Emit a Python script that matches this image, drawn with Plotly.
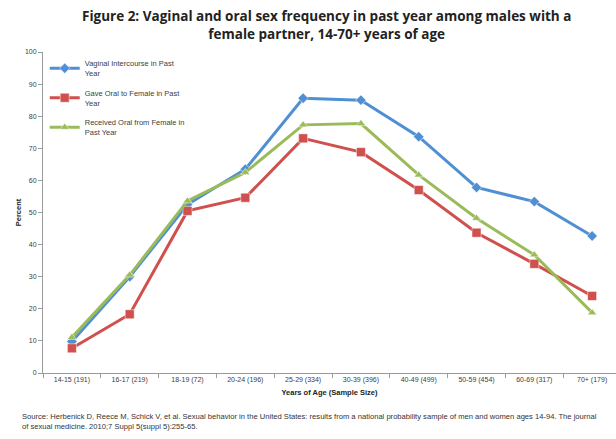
import plotly.graph_objects as go

categories = ["14-15 (191)", "16-17 (219)", "18-19 (72)", "20-24 (196)", "25-29 (334)",
              "30-39 (396)", "40-49 (499)", "50-59 (454)", "60-69 (317)", "70+ (179)"]
vaginal = [9.8, 30.0, 52.5, 63.5, 85.6, 85.0, 73.6, 57.8, 53.4, 42.7]
gave_oral = [7.7, 18.3, 50.5, 54.6, 73.1, 68.8, 57.0, 43.7, 34.0, 24.0]
received_oral = [11.1, 30.5, 53.6, 62.5, 77.3, 77.7, 61.7, 48.2, 36.8, 18.8]

series_names = ["Vaginal Intercourse in Past<br>Year",
                "Gave Oral to Female in Past<br>Year",
                "Received Oral from Female in<br>Past Year"]
colors = ["#4F8FD3", "#D0504D", "#9BBB59"]
symbols = ["diamond", "square", "triangle-up"]

FONT = "Liberation Sans, Arial, sans-serif"

fig = go.Figure()
for i, (name, vals, c, s) in enumerate(zip(series_names, [vaginal, gave_oral, received_oral], colors, symbols)):
    fig.add_trace(go.Scatter(
        x=categories, y=vals, name=name, mode="lines+markers", legendgroup=f"g{i}",
        line=dict(color=c, width=3),
        marker=dict(symbol=s, size=8 if s != "square" else 9, color=c,
                    line=dict(color="white", width=0.5)),
    ))

fig.update_layout(
    width=616, height=439,
    margin=dict(l=43, r=0, t=52, b=66),
    paper_bgcolor="white", plot_bgcolor="white",
    font=dict(family=FONT, size=7, color="#404040"),
    showlegend=True,
    legend=dict(x=0.003, y=1.0, xanchor="left", yanchor="top",
                bgcolor="rgba(0,0,0,0)", font=dict(size=7.5, color="#404040"),
                tracegroupgap=7, itemwidth=30),
    xaxis=dict(
        type="category", range=[-0.5, 9.413],
        showline=True, linecolor="#9a9a9a", linewidth=1,
        ticks="outside", tickson="boundaries", ticklen=4, tickcolor="#9a9a9a",
        showgrid=False, tickfont=dict(size=7, color="#404040"),
        title=dict(text="<b>Years of Age (Sample Size)</b>", font=dict(size=7.5, color="#222222"), standoff=6),
    ),
    yaxis=dict(
        range=[0, 100], dtick=10, showline=True, linecolor="#9a9a9a", linewidth=1,
        ticks="outside", ticklen=4, tickcolor="#9a9a9a", showgrid=False, zeroline=False,
        tickfont=dict(size=7, color="#404040"),
        title=dict(text="<b>Percent</b>", font=dict(size=7.5, color="#222222"), standoff=2),
    ),
)

fig.add_annotation(
    text="<b>Figure 2: Vaginal and oral sex frequency in past year among males with a<br>female partner, 14-70+ years of age</b>",
    xref="paper", yref="paper", x=0.495, y=1.145, xanchor="center", yanchor="top",
    align="center", showarrow=False,
    font=dict(family="Open Sans, " + FONT, size=13.5, color="#222222"),
)

fig.add_annotation(
    text="Source: Herbenick D, Reece M, Schick V, et al. Sexual behavior in the United States: results from a national probability sample of men and women ages 14-94. The journal<br>of sexual medicine. 2010;7 Suppl 5(suppl 5):255-65.",
    xref="paper", yref="paper", x=-0.04, y=-0.115, xanchor="left", yanchor="top",
    align="left", showarrow=False, font=dict(size=7.6, color="#333333"),
)

fig.write_html("out.html")
